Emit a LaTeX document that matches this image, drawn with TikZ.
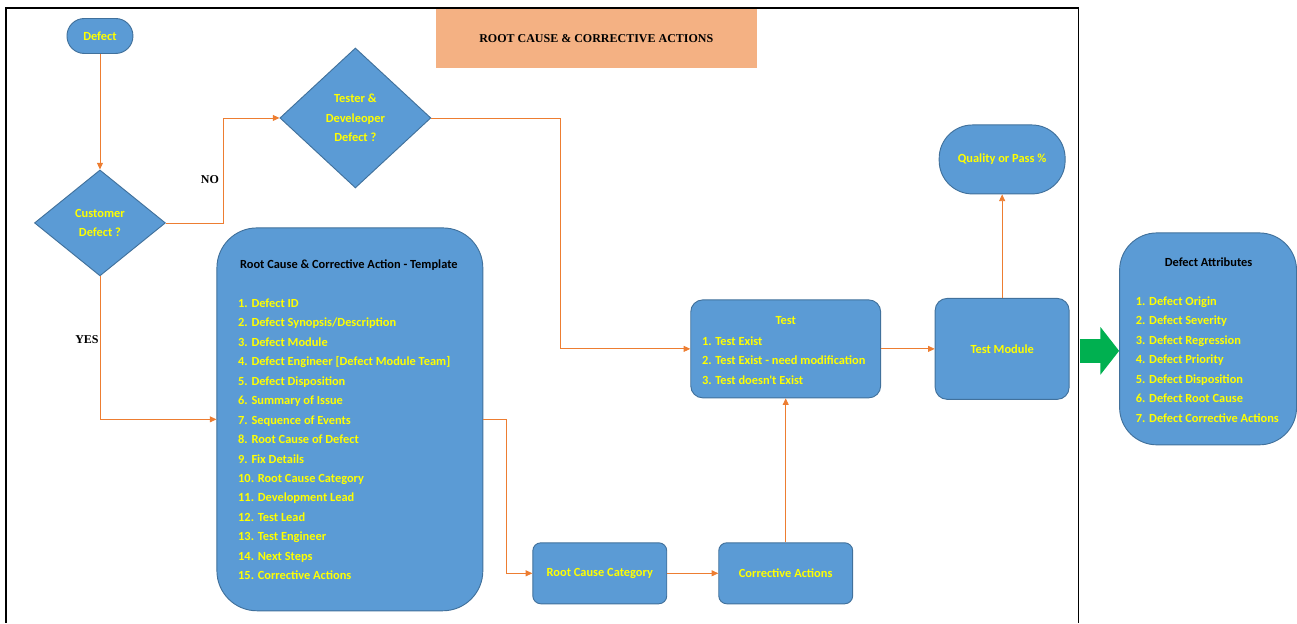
\documentclass[tikz,border=0pt]{standalone}
\usepackage{fontspec}
\setmainfont{Liberation Serif}
\newfontfamily\calibri{Carlito}
\usetikzlibrary{shapes.geometric,arrows.meta}

\definecolor{boxblue}{RGB}{91,155,213}
\definecolor{boxedge}{RGB}{65,113,156}
\definecolor{txtyellow}{RGB}{255,255,0}
\definecolor{lineorange}{RGB}{237,125,49}
\definecolor{titleorange}{RGB}{244,177,131}
\definecolor{arrowgreen}{RGB}{0,176,80}

\begin{document}
\begin{tikzpicture}[x=0.75pt,y=0.75pt,yscale=-1,xscale=1,
  blockbox/.style={draw=boxedge,fill=boxblue,line width=0.7pt,inner sep=0pt},
  yellowtxt/.style={text=txtyellow,inner sep=0pt,font=\calibri\bfseries\fontsize{9.3}{14.6}\selectfont},
  blacktxt/.style={text=black,inner sep=0pt,font=\calibri\bfseries\fontsize{9.3}{14.6}\selectfont},
  flowline/.style={draw=lineorange,line width=0.6pt},
  flowarrow/.style={flowline,-{Triangle[length=5pt,width=4.5pt]}}
]
%set diagram size: 1297 x 623
\path (0,0) rectangle (1297,623);

% page frame
\draw [line width=1.1pt] (6,623) -- (6,8) -- (1079,8) -- (1079,623);

% title
\draw (596.5,38.5) node [fill=titleorange, minimum width=240.75pt, minimum height=44.25pt, font=\bfseries\fontsize{9}{10}\selectfont] (title) {ROOT CAUSE \& CORRECTIVE ACTIONS};

% left column
\draw (100,36) node [blockbox, rounded corners=13pt, minimum width=49.5pt, minimum height=26.25pt, yellowtxt] (defect) {Defect};
\draw (100,223) node [blockbox, diamond, minimum width=98.25pt, minimum height=79.5pt, yellowtxt, align=center] (cust) {Customer\\Defect ?};
\draw (355.5,118) node [blockbox, diamond, minimum width=113.25pt, minimum height=105pt, yellowtxt, align=center] (tester) {Tester \&\\Develeoper\\Defect ?};

% template
\draw (350,419.5) node [blockbox, rounded corners=30pt, minimum width=199.5pt, minimum height=287.25pt] (tmpl) {};
\draw (349,265) node [blacktxt] (tmpltitle) {Root Cause \& Corrective Action - Template};
\draw (238,439.5) node [yellowtxt, anchor=west, align=left] (tmpllist) {1. Defect ID\\2. Defect Synopsis/Description\\3. Defect Module\\4. Defect Engineer [Defect Module Team]\\5. Defect Disposition\\6. Summary of Issue\\7. Sequence of Events\\8. Root Cause of Defect\\9. Fix Details\\10. Root Cause Category\\11. Development Lead\\12. Test Lead\\13. Test Engineer\\14. Next Steps\\15. Corrective Actions};

% bottom row
\draw (600,573.5) node [blockbox, rounded corners=6pt, minimum width=100.5pt, minimum height=45.75pt, yellowtxt] (rcc) {Root Cause Category};
\draw (786,573.5) node [blockbox, rounded corners=6pt, minimum width=100.5pt, minimum height=45.75pt, yellowtxt] (ca) {Corrective Actions};

% test
\draw (786,349) node [blockbox, rounded corners=9pt, minimum width=142.5pt, minimum height=73.5pt] (test) {};
\draw (786,321) node [yellowtxt] (testtitle) {Test};
\draw (702,360.5) node [yellowtxt, anchor=west, align=left] (testlist) {1. Test Exist\\2. Test Exist - need modification\\3. Test doesn't Exist};

\draw (1002.5,349) node [blockbox, rounded corners=9pt, minimum width=100.5pt, minimum height=75.75pt, yellowtxt] (tmodule) {Test Module};
\draw (1002.5,159.5) node [blockbox, rounded corners=25pt, minimum width=94.5pt, minimum height=51.75pt, yellowtxt] (quality) {Quality or Pass \%};

% attributes
\draw (1208.5,339) node [blockbox, rounded corners=28pt, minimum width=132.75pt, minimum height=159pt] (attr) {};
\draw (1209,262) node [blacktxt] (attrtitle) {Defect Attributes};
\draw (1136,359.5) node [yellowtxt, anchor=west, align=left] (attrlist) {1. Defect Origin\\2. Defect Severity\\3. Defect Regression\\4. Defect Priority\\5. Defect Disposition\\6. Defect Root Cause\\7. Defect Corrective Actions};

% connectors
\coordinate (nobend) at (223,118);
\coordinate (testerbend) at (561,118);
\coordinate (tmplbend) at (507,419.5);
\draw [flowarrow] (defect) -- (cust);
\draw [flowarrow] (cust.east) -| (nobend) -- (tester.west);
\draw [flowarrow] (cust.south) |- (tmpl.west);
\draw [flowarrow] (tester.east) -- (testerbend) |- (test.west);
\draw [flowarrow] (tmpl.east) -- (tmplbend) |- (rcc.west);
\draw [flowarrow] (rcc) -- (ca);
\draw [flowarrow] (ca) -- (test);
\draw [flowarrow] (test) -- (tmodule);
\draw [flowarrow] (tmodule) -- (quality);

\draw (210,180) node [font=\bfseries\fontsize{9}{10}\selectfont] (nolbl) {NO};
\draw (87,340) node [font=\bfseries\fontsize{9}{10}\selectfont] (yeslbl) {YES};

% green block arrow
\coordinate (gstart) at (1080,351);
\draw [draw=arrowgreen, line width=18pt, -{Triangle[length=14pt,width=35pt]}] (gstart) -- (gstart -| attr.west);

\end{tikzpicture}
\end{document}
